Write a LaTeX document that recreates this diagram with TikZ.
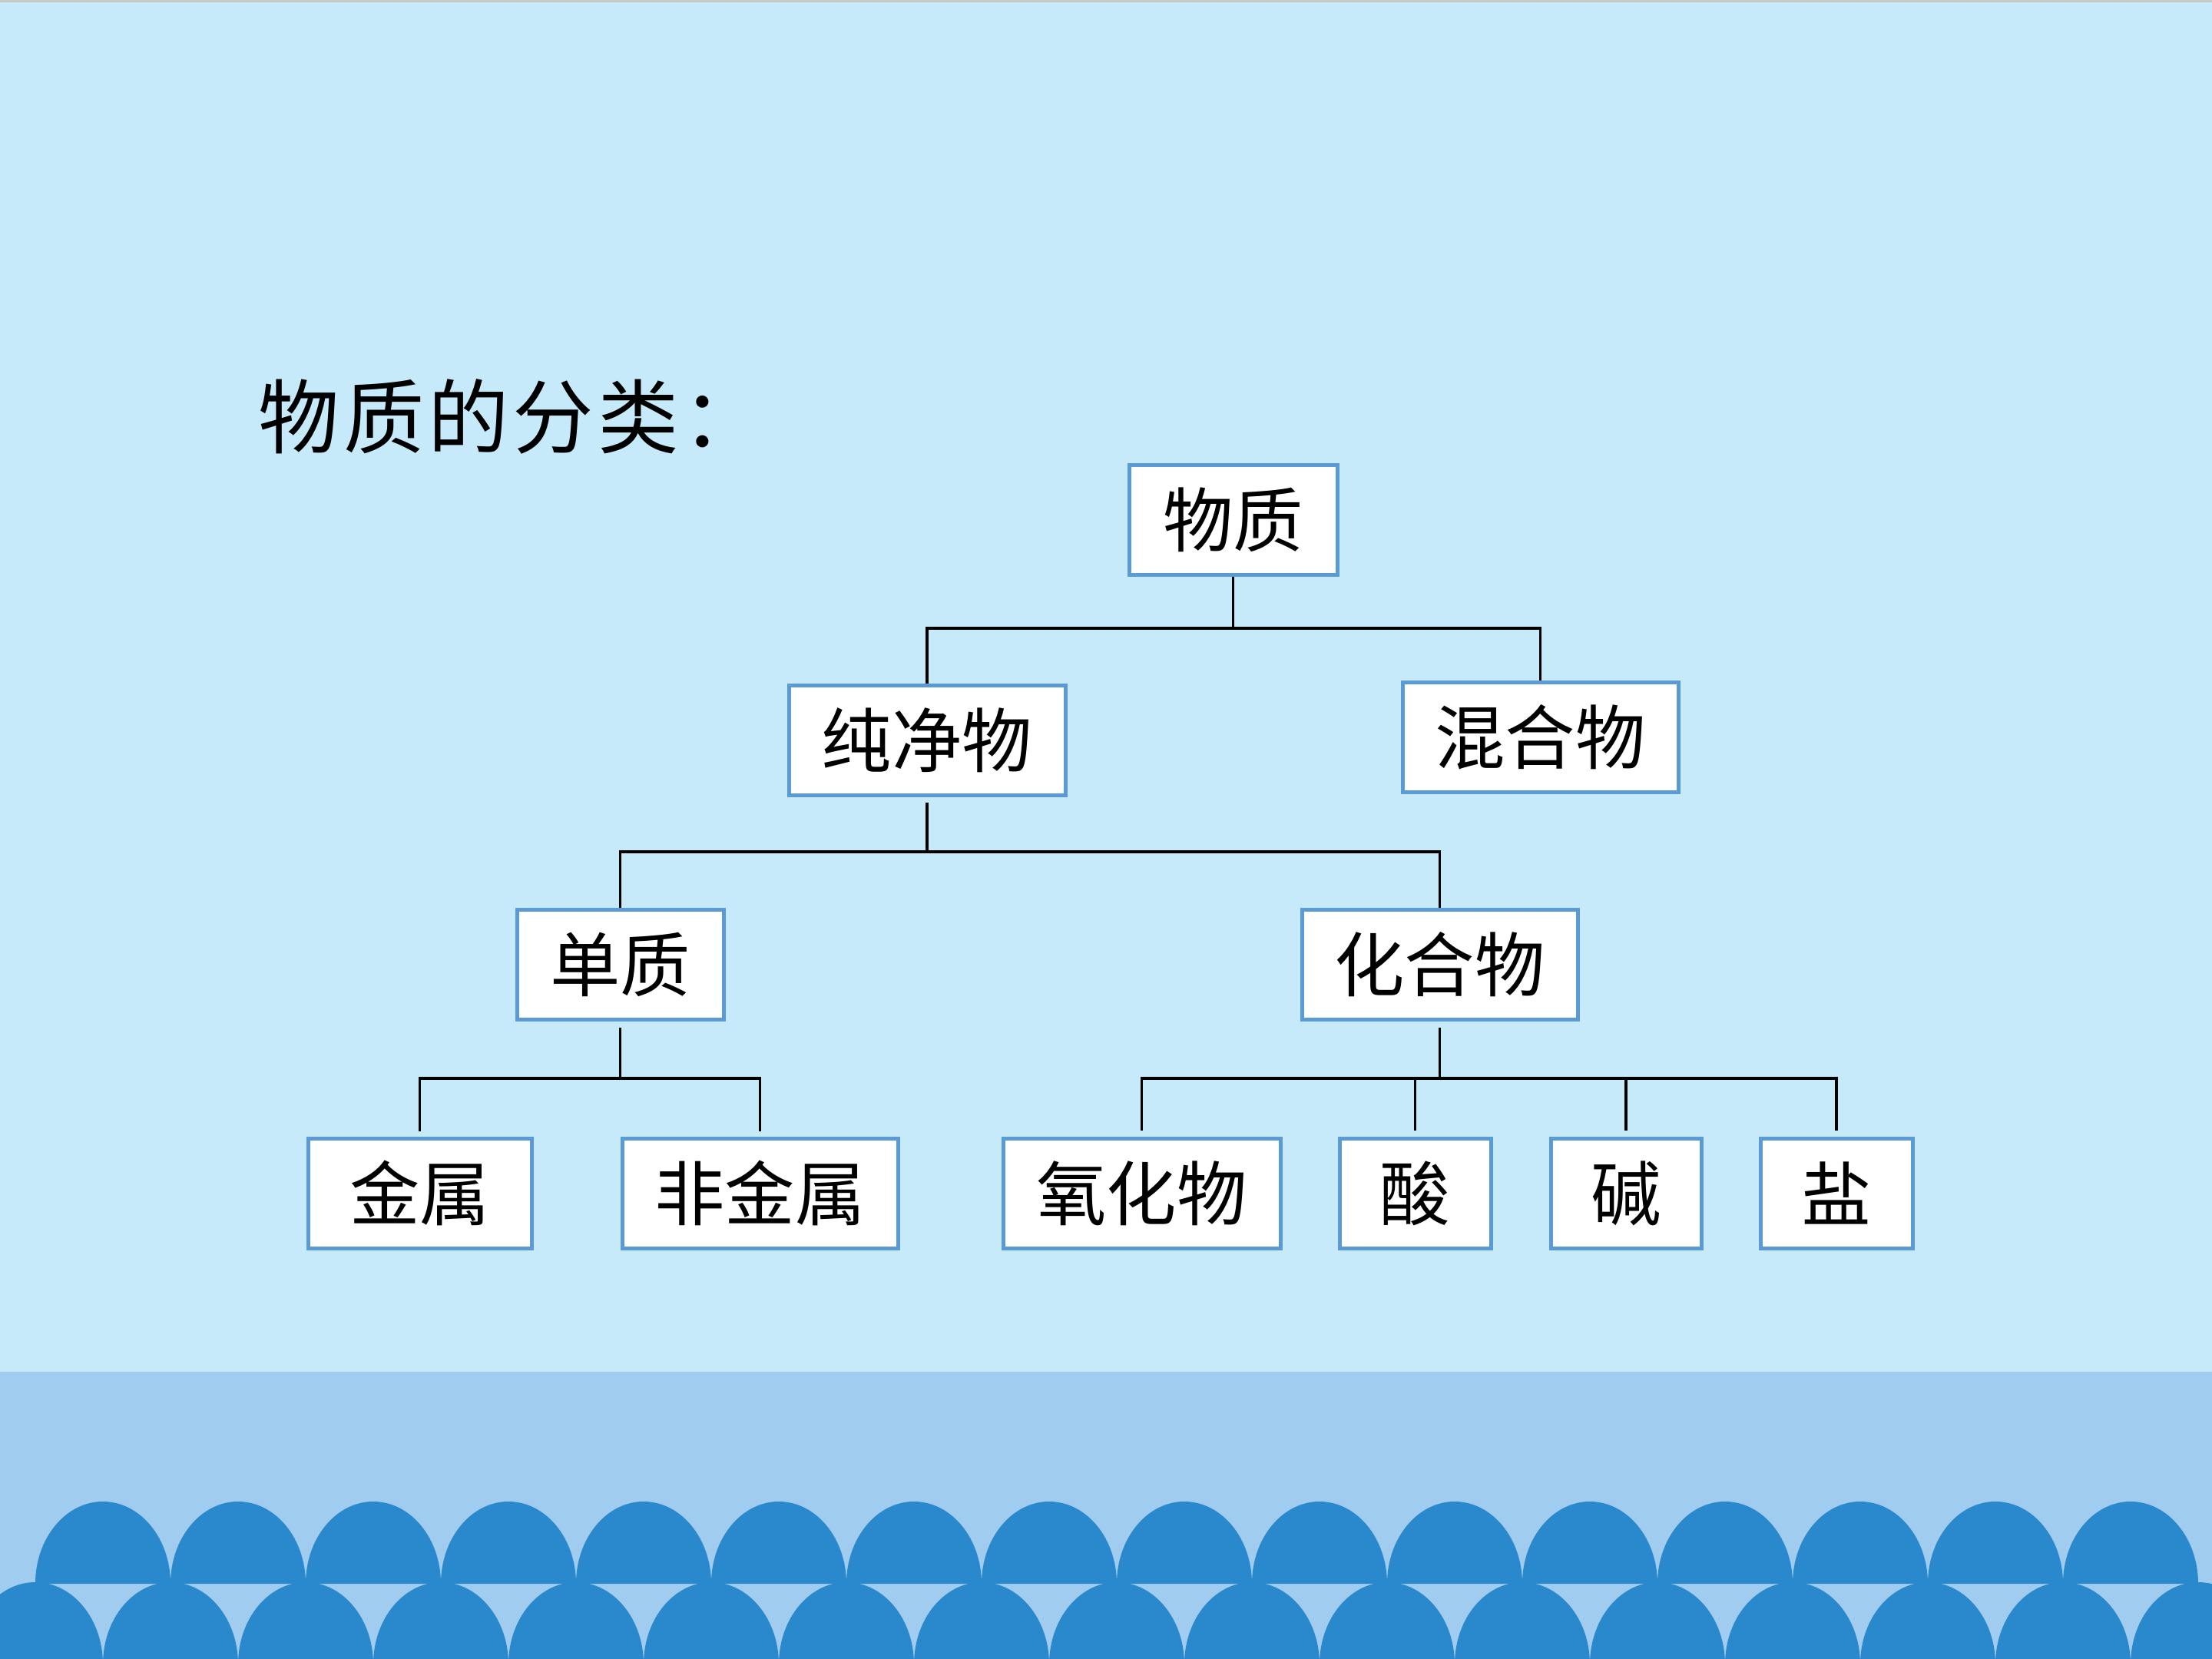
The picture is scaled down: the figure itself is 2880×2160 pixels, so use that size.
\documentclass[tikz,border=0pt]{standalone}
\usepackage{fontspec}
\newfontfamily\cjk{Noto Sans CJK SC}
\definecolor{bgtop}{RGB}{199,234,251}
\definecolor{band}{RGB}{160,204,240}
\definecolor{scallop}{RGB}{42,136,205}
\definecolor{boxblue}{RGB}{91,155,213}
\definecolor{topgray}{RGB}{200,200,200}
\begin{document}
\begin{tikzpicture}[x=0.1mm,y=0.1mm,
  box/.style={draw=boxblue, line width=0.5mm, fill=white, inner sep=0pt,
    minimum height=14.3mm, font=\cjk\fontsize{26}{26}\selectfont},
  conn/.style={line width=0.33mm, draw=black},
  titletext/.style={anchor=west, inner sep=0pt, font=\cjk\fontsize{30}{30}\selectfont}]
\useasboundingbox (0,0) rectangle (2880,-2160);
% background
\fill[bgtop] (0,0) rectangle (2880,-2160);
\fill[topgray] (0,0) rectangle (2880,-3);
\fill[band] (0,-1786) rectangle (2880,-2160);
\begin{scope}
\clip (0,0) rectangle (2880,-2160);
\foreach \i in {0,...,15}
  \fill[scallop] ({46+176*\i},-2062) arc[start angle=180,end angle=0,x radius=8.8mm,y radius=10.7mm] -- cycle;
\foreach \i in {-1,...,16}
  \fill[scallop] ({-42+176*\i},-2167) arc[start angle=180,end angle=0,x radius=8.8mm,y radius=10.7mm] -- cycle;
\end{scope}
% title
\node[titletext] (title) at (336,-542) {物\hspace{0.5mm}质\hspace{0.5mm}的\hspace{0.5mm}分\hspace{0.5mm}类\hspace{0.5mm}：};
% boxes
\node[box, minimum width=27.1mm] (wz)  at (1605.5,-676.5) {物质};
\node[box, minimum width=36.0mm] (cjw) at (1207,-963.5) {纯净物};
\node[box, minimum width=35.9mm] (hhw) at (2005.5,-959.5) {混合物};
\node[box, minimum width=26.9mm] (dz)  at (807.5,-1255.5) {单质};
\node[box, minimum width=35.9mm] (hhw2) at (1874.5,-1256) {化合物};
\node[box, minimum width=29.1mm] (js)  at (546.5,-1553.5) {金属};
\node[box, minimum width=35.9mm] (fjs) at (989.5,-1553.5) {非金属};
\node[box, minimum width=36.1mm] (yhw) at (1486.5,-1553.5) {氧化物};
\node[box, minimum width=19.7mm] (suan) at (1842.5,-1553.5) {酸};
\node[box, minimum width=19.6mm] (jian) at (2117,-1553.5) {碱};
\node[box, minimum width=19.8mm] (yan) at (2391,-1553.5) {盐};
% bar levels
\coordinate (b1) at (0,-818);
\coordinate (b2) at (0,-1109);
\coordinate (b3) at (0,-1404);
\coordinate (b4) at (0,-1404);
% level 1
\draw[conn] (wz.south) -- (wz.south |- b1);
\draw[conn] (cjw.north) |- (b1 -| hhw.north) -- (hhw.north);
% level 2
\draw[conn] ([yshift=-0.7mm]cjw.south) -- (cjw.south |- b2);
\draw[conn] (dz.north) |- (b2 -| hhw2.north) -- (hhw2.north);
% level 3 left
\draw[conn] ([yshift=-0.8mm]dz.south) -- (dz.south |- b3);
\draw[conn] ([yshift=0.7mm]js.north) |- (b3 -| fjs.north) -- ([yshift=0.7mm]fjs.north);
% level 3 right
\draw[conn] ([yshift=-0.8mm]hhw2.south) -- (hhw2.south |- b4);
\draw[conn] ([yshift=0.8mm]yhw.north) |- (b4 -| yan.north) -- ([yshift=0.8mm]yan.north);
\draw[conn] (suan.north |- b4) -- ([yshift=0.8mm]suan.north);
\draw[conn] (jian.north |- b4) -- ([yshift=0.8mm]jian.north);
\end{tikzpicture}
\end{document}
